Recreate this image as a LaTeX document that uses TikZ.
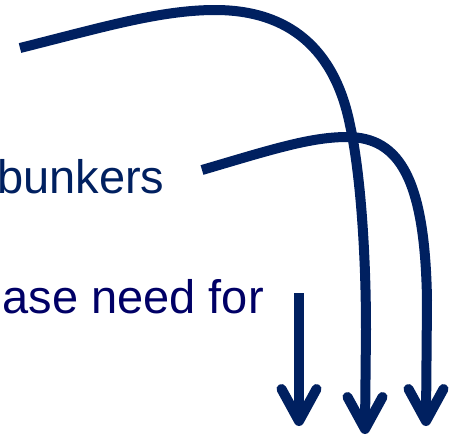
\documentclass[tikz,border=0pt]{standalone}
\usepackage{fontspec}
\setmainfont{Liberation Sans}
\usetikzlibrary{calc}
\definecolor{navyline}{RGB}{0,32,96}
\definecolor{navytext}{RGB}{0,32,96}
\definecolor{purpletext}{RGB}{0,0,102}
\tikzset{
  flowline/.style={draw=navyline, line width=10pt, line cap=butt},
  headline/.style={draw=navyline, line width=10pt, line cap=round, line join=round},
  bigtext/.style={inner sep=0pt, font=\fontsize{47}{56}\selectfont}
}
\begin{document}
\begin{tikzpicture}[x=1pt,y=-1pt]
\useasboundingbox (0,0) rectangle (456,437);
\clip (0,0) rectangle (456,437);
\fill[white] (0,0) rectangle (456,437);
% texts
\node[bigtext, text=navytext, anchor=base west] (t1) at (-3,193) {bunkers};
\node[bigtext, text=purpletext, anchor=base east] (t2) at (264,313) {ase need for};
% coordinates
\coordinate (s1) at (20,48);
\coordinate (p1) at (215,10);
\coordinate (q1) at (350,125);
\coordinate (e1) at (365,429);
\coordinate (s2) at (202,170);
\coordinate (p2) at (347,137);
\coordinate (e2) at (426,421);
\coordinate (s3) at (299,293);
\coordinate (e3) at (299,421);
% curve 1
\draw[flowline] (s1) .. controls (100,28) and (160,10) .. (p1)
  .. controls (290,10) and (335,50) .. (q1)
  .. controls (360,170) and (366,250) .. (366,330) -- (e1);
% curve 2
\draw[flowline] (s2) .. controls (270,150) and (310,137) .. (p2)
  .. controls (400,137) and (425,180) .. (427,300) -- (e2);
% straight
\draw[flowline] (s3) -- (e3);
% heads
\foreach \e in {e1,e2,e3}{
  \draw[headline] ($(\e)+(-17.5,-32)$) -- (\e) -- ($(\e)+(17.5,-32)$);
}
\end{tikzpicture}
\end{document}
